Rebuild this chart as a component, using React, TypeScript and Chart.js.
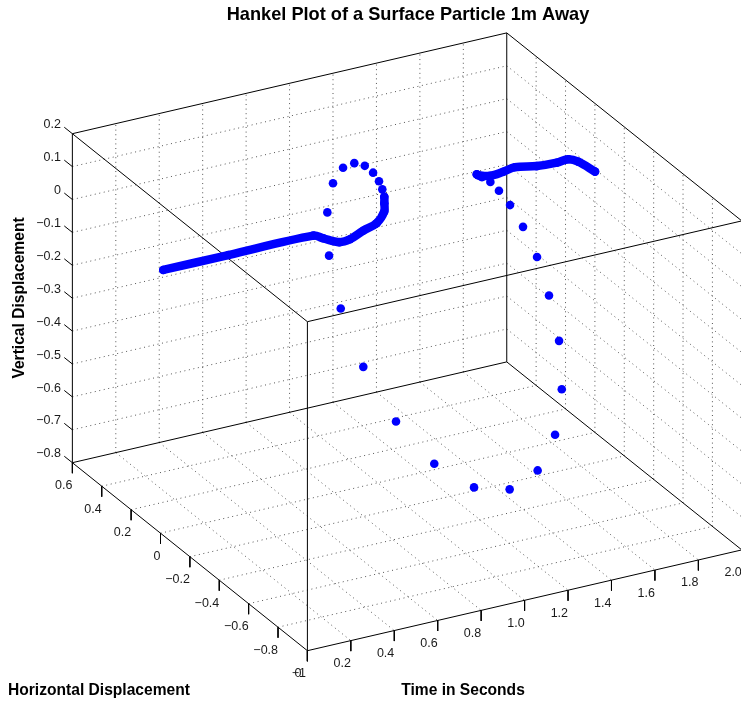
import React, { useEffect, useRef } from "react";
import { Chart, registerables } from "chart.js";

Chart.register(...registerables);

const WIDTH = 741;
const HEIGHT = 704;

// Particle path
const timeValues = [0.01, 0.31, 0.7, 0.74, 0.78, 0.8, 0.83, 0.86, 0.88, 0.9, 0.92, 0.94, 0.96, 0.98, 1.0, 1.02, 1.04, 1.06, 1.08, 1.1, 1.12, 1.14, 1.16, 1.18, 1.2, 1.22, 1.24, 1.26, 1.28, 1.3, 1.32, 1.34, 1.36, 1.38, 1.4, 1.42, 1.44, 1.46, 1.48, 1.54, 1.6, 1.64, 1.74, 1.84, 1.9, 1.93, 2.0];
const horizontalValues = [-0.004, -0.003, -0.005, -0.014, -0.064, -0.107, -0.153, -0.2, -0.222, -0.193, -0.163, -0.12, -0.068, 0.002, 0.088, 0.189, 0.295, 0.393, 0.461, 0.479, 0.429, 0.305, 0.112, -0.119, -0.36, -0.573, -0.734, -0.823, -0.839, -0.791, -0.693, -0.582, -0.457, -0.339, -0.234, -0.146, -0.059, 0.006, 0.027, 0.034, 0.032, 0.012, 0.012, 0.023, 0.033, 0.01, -0.001];
const verticalValues = [0, -0.001, -0.001, -0.012, -0.012, 0.009, 0.047, 0.082, 0.122, 0.134, 0.14, 0.144, 0.147, 0.145, 0.132, 0.101, 0.046, -0.039, -0.155, -0.296, -0.442, -0.578, -0.678, -0.727, -0.716, -0.649, -0.537, -0.4, -0.259, -0.132, -0.032, 0.042, 0.086, 0.107, 0.11, 0.102, 0.083, 0.065, 0.052, 0.038, 0.042, 0.057, 0.045, 0.036, 0.034, 0.03, -0.007];

// Axes
const timeTicks = [0, 0.2, 0.4, 0.6, 0.8, 1.0, 1.2, 1.4, 1.6, 1.8, 2.0];
const timeLabels = ["0", "0.2", "0.4", "0.6", "0.8", "1.0", "1.2", "1.4", "1.6", "1.8", "2.0"];
const horizontalTicks = [0.6, 0.4, 0.2, 0, -0.2, -0.4, -0.6, -0.8, -1];
const horizontalLabels = ["0.6", "0.4", "0.2", "0", "\u22120.2", "\u22120.4", "\u22120.6", "\u22120.8", "\u22121"];
const verticalTicks = [0.2, 0.1, 0, -0.1, -0.2, -0.3, -0.4, -0.5, -0.6, -0.7, -0.8];
const verticalLabels = ["0.2", "0.1", "0", "\u22120.1", "\u22120.2", "\u22120.3", "\u22120.4", "\u22120.5", "\u22120.6", "\u22120.7", "\u22120.8"];

const chartTitle = "Hankel Plot of a Surface Particle 1m Away";
const timeTitle = "Time in Seconds";
const horizontalTitle = "Horizontal Displacement";
const verticalTitle = "Vertical Displacement";

const T0 = 0, T1 = 2, H0 = 0.6, H1 = -1, V0 = -0.8, V1 = 0.2;

// Orthographic view of the 3-D axes box onto the page
function project(t: number, h: number, v: number) {
  const H = h + 1;
  const V = v + 0.8;
  return {
    x: 307.4 + 217.2 * t - 146.9 * H,
    y: 650.7 - 50.4 * t - 117.5 * H - 329 * V,
  };
}

type P3 = [number, number, number];

function lineDs(a: P3, b: P3, color: string, width: number, dash: number[] = []) {
  return {
    data: [project(...a), project(...b)],
    showLine: true,
    borderColor: color,
    borderWidth: width,
    borderDash: dash,
    pointRadius: 0,
    fill: false,
    clip: false as const,
  };
}

const BLUE = "#0000ff";
const GRID = "#555555";
const DOTS = [1, 3.6];
const INK = "#000000";

function buildDatasets() {
  const particle = {
    data: timeValues.map((t, i) => project(t, horizontalValues[i], verticalValues[i])),
    showLine: true,
    borderColor: BLUE,
    backgroundColor: BLUE,
    borderWidth: 8.5,
    tension: 0.35,
    borderCapStyle: "round" as const,
    borderJoinStyle: "round" as const,
    pointRadius: 4.3,
    pointBorderWidth: 0,
    pointBackgroundColor: BLUE,
    segment: {
      borderColor: (ctx: any) =>
        timeValues[ctx.p0DataIndex] >= 0.92 && timeValues[ctx.p1DataIndex] <= 1.44 ? "rgba(0,0,0,0)" : BLUE,
    },
  };

  const box: any[] = [
    lineDs([T0, H0, V0], [T0, H1, V0], INK, 1),
    lineDs([T0, H1, V0], [T1, H1, V0], INK, 1),
    lineDs([T0, H0, V0], [T1, H0, V0], INK, 1),
    lineDs([T1, H0, V0], [T1, H1, V0], INK, 1),
    lineDs([T0, H0, V1], [T0, H1, V1], INK, 1),
    lineDs([T0, H1, V1], [T1, H1, V1], INK, 1),
    lineDs([T0, H0, V1], [T1, H0, V1], INK, 1),
    lineDs([T1, H0, V1], [T1, H1, V1], INK, 1),
    lineDs([T0, H0, V0], [T0, H0, V1], INK, 1),
    lineDs([T1, H0, V0], [T1, H0, V1], INK, 1),
    lineDs([T0, H1, V0], [T0, H1, V1], INK, 1),
  ];

  const ticks: any[] = [];
  const TICK_V = V0 - 0.032;
  const TICK_H = H0 + 0.055;
  timeTicks.forEach((t) => ticks.push(lineDs([t, H1, V0], [t, H1, TICK_V], INK, 1)));
  horizontalTicks.forEach((h) => ticks.push(lineDs([T0, h, V0], [T0, h, TICK_V], INK, 1)));
  verticalTicks.forEach((v) => ticks.push(lineDs([T0, H0, v], [T0, TICK_H, v], INK, 1)));

  const grid: any[] = [];
  const innerT = timeTicks.slice(1, -1);
  const innerH = horizontalTicks.slice(1, -1);
  const innerV = verticalTicks.slice(1, -1);
  innerT.forEach((t) => {
    grid.push(lineDs([t, H0, V0], [t, H0, V1], GRID, 1, DOTS));
    grid.push(lineDs([t, H0, V0], [t, H1, V0], GRID, 1, DOTS));
  });
  innerH.forEach((h) => {
    grid.push(lineDs([T1, h, V0], [T1, h, V1], GRID, 1, DOTS));
    grid.push(lineDs([T0, h, V0], [T1, h, V0], GRID, 1, DOTS));
  });
  innerV.forEach((v) => {
    grid.push(lineDs([T0, H0, v], [T1, H0, v], GRID, 1, DOTS));
    grid.push(lineDs([T1, H0, v], [T1, H1, v], GRID, 1, DOTS));
  });

  // The first dataset is painted last, so it lies on top
  return [particle, ...ticks, ...box, ...grid];
}

const textPlugin = {
  id: "axisText",
  afterDraw(chart: any) {
    const { ctx, scales } = chart;
    const at = (p: { x: number; y: number }) => ({
      x: scales.x.getPixelForValue(p.x),
      y: scales.y.getPixelForValue(p.y),
    });
    ctx.save();
    ctx.fillStyle = "#1a1a1a";
    ctx.font = '12.5px "Liberation Sans", Arial, sans-serif';
    ctx.textBaseline = "middle";
    ctx.textAlign = "right";
    timeTicks.forEach((t, i) => {
      const p = at(project(t, H1, V0));
      // The "0" sits on the minus of the neighbouring "-1" label
      ctx.fillText(timeLabels[i], p.x - (t === 0 ? 6 : 0), p.y + 23);
    });
    horizontalTicks.forEach((h, i) => {
      const p = at(project(T0, h, V0));
      ctx.fillText(horizontalLabels[i], p.x - (h === -1 ? 1.5 : 0), p.y + 23);
    });
    verticalTicks.forEach((v, i) => {
      const p = at(project(T0, H0, v));
      ctx.fillText(verticalLabels[i], p.x - 11.5, p.y - 8.8);
    });
    ctx.fillStyle = "#000000";
    ctx.textAlign = "center";
    ctx.font = 'bold 18.2px "Liberation Sans", Arial, sans-serif';
    ctx.fillText(chartTitle, 408, 14.7);
    ctx.font = 'bold 15.6px "Liberation Sans", Arial, sans-serif';
    ctx.fillText(timeTitle, 463, 691);
    ctx.textAlign = "left";
    ctx.fillText(horizontalTitle, 8, 691);
    ctx.translate(20, 298);
    ctx.rotate(-Math.PI / 2);
    ctx.textAlign = "center";
    ctx.fillText(verticalTitle, 0, 0);
    ctx.restore();
  },
};

export default function App() {
  const ref = useRef<HTMLCanvasElement>(null);
  useEffect(() => {
    document.body.style.margin = "0";
    document.body.style.background = "#ffffff";
    const chart = new Chart(ref.current!, {
      type: "scatter",
      data: { datasets: buildDatasets() as any },
      plugins: [textPlugin],
      options: {
        animation: false,
        responsive: false,
        layout: { padding: 0, autoPadding: false },
        plugins: { legend: { display: false }, tooltip: { enabled: false }, title: { display: false } },
        scales: {
          x: { type: "linear", min: 0, max: WIDTH, display: false },
          y: { type: "linear", min: 0, max: HEIGHT, reverse: true, display: false },
        },
      },
    });
    return () => chart.destroy();
  }, []);
  return <canvas ref={ref} width={WIDTH} height={HEIGHT} style={{ display: "block" }} />;
}
